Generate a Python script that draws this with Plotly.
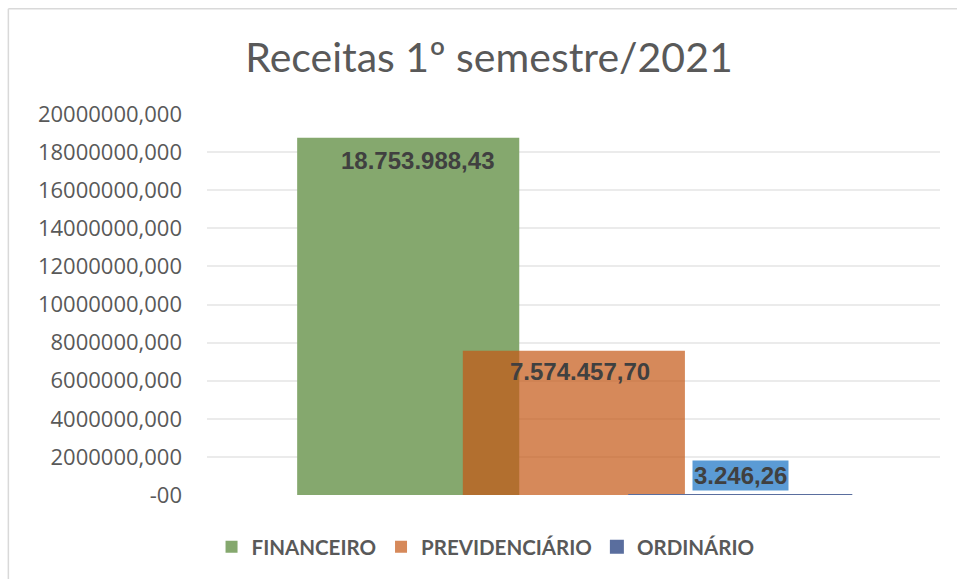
import plotly.graph_objects as go

# dados
categoria = ["Receitas"]
series = ["FINANCEIRO", "PREVIDENCIÁRIO", "ORDINÁRIO"]
valores = [18753988.43, 7574457.70, 3246.26]
rotulos = ["18.753.988,43", "7.574.457,70", "3.246,26"]
cores = ["#85A86E", "rgba(196,87,20,0.7)", "#5A6E9E"]

tick_vals = [0, 2000000, 4000000, 6000000, 8000000, 10000000,
             12000000, 14000000, 16000000, 18000000, 20000000]
tick_text = ["-00", "2000000,000", "4000000,000", "6000000,000", "8000000,000",
             "10000000,000", "12000000,000", "14000000,000", "16000000,000",
             "18000000,000", "20000000,000"]

# layout das barras (estilo excel, sobrepostas)
larg = 0.303
offsets = [-0.377, -0.151, 0.076]
plot_w = 733

fig = go.Figure()
for i, nome in enumerate(series):
    fig.add_trace(go.Bar(
        x=categoria,
        y=[valores[i]],
        name=nome,
        width=larg,
        offset=offsets[i],
        marker=dict(color=cores[i],
                    line=dict(width=0 if i < 2 else 2, color=cores[i])),
        hoverinfo="name+y",
    ))

# rótulos de dados
desloc_x = [9, 6, 0]
desloc_y = [-23, -21, 4]
for i in range(3):
    centro = (offsets[i] + larg / 2) * plot_w
    fig.add_annotation(
        x=categoria[0], y=valores[i],
        text="<b>" + rotulos[i] + "</b>",
        showarrow=False,
        xshift=centro + desloc_x[i],
        yanchor="middle" if i < 2 else "bottom",
        yshift=desloc_y[i],
        bgcolor="#5B9BD5" if i == 2 else None,
        borderpad=1,
        font=dict(family="Liberation Sans", size=24, color="#404040"),
    )

# moldura do gráfico (só esquerda e topo aparecem no recorte)
fig.add_shape(type="line", xref="paper", yref="paper",
              x0=-0.271, x1=-0.271, y0=-0.3, y1=1.276,
              line=dict(color="#D9D9D9", width=1.5), layer="below")
fig.add_shape(type="line", xref="paper", yref="paper",
              x0=-0.271, x1=1.1, y0=1.276, y1=1.276,
              line=dict(color="#D9D9D9", width=1.5), layer="below")

fig.update_layout(
    width=957, height=579,
    margin=dict(l=207, r=17, t=114, b=84),
    paper_bgcolor="white", plot_bgcolor="white",
    barmode="overlay",
    title=dict(text="Receitas 1º semestre/2021", x=0.511, xanchor="center",
               y=0.9, yanchor="middle",
               font=dict(family="Lato", size=41, color="#595959")),
    xaxis=dict(range=[-0.5, 0.5], showticklabels=False, showgrid=False,
               zeroline=False, showline=False, fixedrange=True),
    yaxis=dict(range=[0, 20000000], tickvals=tick_vals, ticktext=tick_text,
               showgrid=True, gridcolor="#EBEBEB", gridwidth=1.5,
               zeroline=False, showline=False, ticklabelstandoff=24,
               tickfont=dict(family="Open Sans", size=22, color="#595959")),
    showlegend=True,
    legend=dict(orientation="h", x=0.38, xanchor="center", y=-0.136, yanchor="middle",
                font=dict(family="Lato", size=20.5, color="#595959", weight="bold"),
                itemclick=False, traceorder="normal"),
)

fig.write_html("out.html", config={"displayModeBar": False},
               post_script="document.body.style.margin='0';document.body.style.overflow='hidden';")
